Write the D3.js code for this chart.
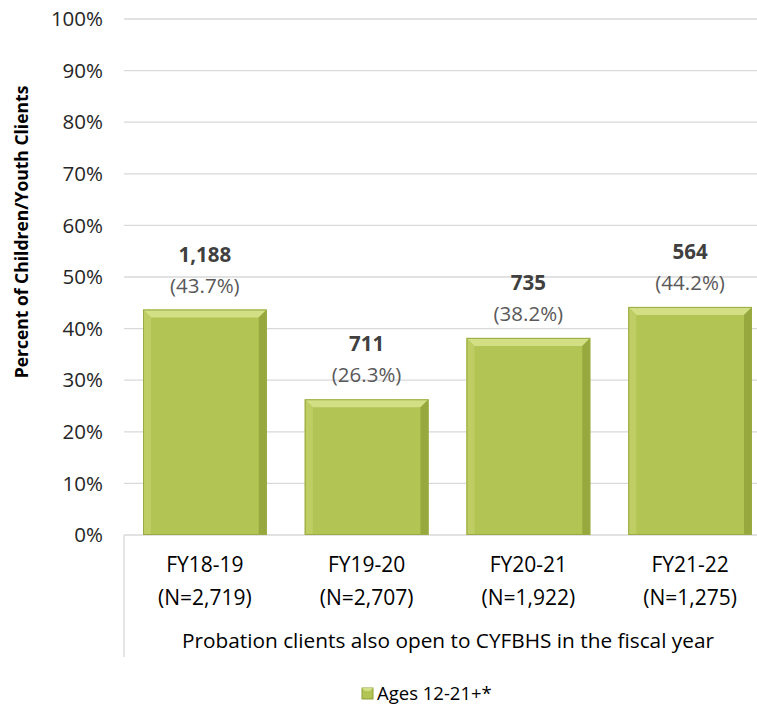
<!DOCTYPE html>
<html>
<head>
<meta charset="utf-8">
<script src="https://cdn.jsdelivr.net/npm/d3@7/dist/d3.min.js"></script>
<style>
  html, body { margin: 0; padding: 0; background: #fff; }
  svg { display: block; }
  text { font-family: "Open Sans", Lato, sans-serif; }
</style>
</head>
<body>
<svg id="chart" width="757" height="712"></svg>
<script>
// Probation clients also open to CYFBHS, by fiscal year
const categories = ["FY18-19", "FY19-20", "FY20-21", "FY21-22"];
const totals = [2719, 2707, 1922, 1275];
const counts = [1188, 711, 735, 564];
const percents = [43.7, 26.3, 38.2, 44.2];
const yTicks = [0, 10, 20, 30, 40, 50, 60, 70, 80, 90, 100];
const groupLabel = "Probation clients also open to CYFBHS in the fiscal year";
const seriesName = "Ages 12-21+*";

const svg = d3.select("#chart");
const plotLeft = 124, plotRight = 771, plotTop = 19, plotBottom = 535;
const fs = 20.5;

const x = d3.scaleBand().domain(categories).range([plotLeft, plotRight]).paddingInner(0.235).paddingOuter(0.1175);
const y = d3.scaleLinear().domain([0, 100]).range([plotBottom, plotTop]);
const fmt = d3.format(",");

// gridlines
svg.append("g").selectAll("line").data(yTicks.filter(d => d > 0)).join("line")
  .attr("x1", plotLeft).attr("x2", plotRight)
  .attr("y1", d => y(d)).attr("y2", d => y(d))
  .attr("stroke", "#d9d9d9").attr("stroke-width", 1.3);

// y tick labels
svg.append("g").selectAll("text").data(yTicks).join("text")
  .attr("x", 103).attr("y", d => y(d)).attr("dy", "0.35em")
  .attr("text-anchor", "end").attr("font-size", fs).attr("fill", "#262626")
  .text(d => d + "%");

// y axis title
svg.append("text")
  .attr("transform", "translate(22,232) rotate(-90)")
  .attr("text-anchor", "middle").attr("dy", "0.35em").attr("font-size", 17.5).attr("font-weight", "bold")
  .attr("fill", "#000").text("Percent of Children/Youth Clients");

// category axis frame
svg.append("line").attr("x1", plotLeft).attr("x2", plotRight).attr("y1", plotBottom).attr("y2", plotBottom)
  .attr("stroke", "#d9d9d9").attr("stroke-width", 1.3);
svg.append("line").attr("x1", plotLeft).attr("x2", plotLeft).attr("y1", plotBottom).attr("y2", 657)
  .attr("stroke", "#d9d9d9").attr("stroke-width", 1.3);

// beveled bars
const bev = 8;
const bars = svg.append("g").selectAll("g").data(categories).join("g");
function barGeom(i) {
  const x0 = x(categories[i]), x1 = x0 + x.bandwidth();
  const y0 = y(percents[i]), y1 = y(0);
  return { x0, x1, y0, y1 };
}
bars.append("rect")
  .attr("x", (d, i) => barGeom(i).x0).attr("y", (d, i) => barGeom(i).y0)
  .attr("width", x.bandwidth()).attr("height", (d, i) => barGeom(i).y1 - barGeom(i).y0)
  .attr("fill", "#b2c454");
const faces = [
  { fill: "#d3df84", pts: g => [[g.x0, g.y0], [g.x1, g.y0], [g.x1 - bev, g.y0 + bev], [g.x0 + bev, g.y0 + bev]] },
  { fill: "#bfce64", pts: g => [[g.x0, g.y0], [g.x0 + bev, g.y0 + bev], [g.x0 + bev, g.y1], [g.x0, g.y1]] },
  { fill: "#97a93e", pts: g => [[g.x1, g.y0], [g.x1 - bev, g.y0 + bev], [g.x1 - bev, g.y1], [g.x1, g.y1]] }
];
faces.forEach(f => {
  bars.append("polygon")
    .attr("points", (d, i) => f.pts(barGeom(i)).map(p => p.join(",")).join(" "))
    .attr("fill", f.fill);
});
bars.append("rect")
  .attr("x", (d, i) => barGeom(i).x0 + 0.5).attr("y", (d, i) => barGeom(i).y0 + 0.5)
  .attr("width", x.bandwidth() - 1).attr("height", (d, i) => barGeom(i).y1 - barGeom(i).y0 - 1)
  .attr("fill", "none").attr("stroke", "#9aab45").attr("stroke-width", 1);

// data labels
bars.append("text")
  .attr("x", d => x(d) + x.bandwidth() / 2)
  .attr("y", (d, i) => y(percents[i]) - 55)
  .attr("dy", "0.35em").attr("text-anchor", "middle")
  .attr("font-size", fs).attr("font-weight", "bold").attr("fill", "#404040")
  .text((d, i) => fmt(counts[i]));
bars.append("text")
  .attr("x", d => x(d) + x.bandwidth() / 2)
  .attr("y", (d, i) => y(percents[i]) - 24)
  .attr("dy", "0.35em").attr("text-anchor", "middle")
  .attr("font-size", fs).attr("fill", "#595959")
  .text((d, i) => "(" + percents[i].toFixed(1) + "%)");

// category labels
const cat = svg.append("g").selectAll("g").data(categories).join("g");
cat.append("text")
  .attr("x", d => x(d) + x.bandwidth() / 2).attr("y", 565).attr("dy", "0.35em")
  .attr("text-anchor", "middle").attr("font-size", 21).attr("fill", "#000").text(d => d);
cat.append("text")
  .attr("x", d => x(d) + x.bandwidth() / 2).attr("y", 598).attr("dy", "0.35em")
  .attr("text-anchor", "middle").attr("font-size", 21).attr("fill", "#000")
  .text((d, i) => "(N=" + fmt(totals[i]) + ")");

svg.append("text").attr("x", 448).attr("y", 641).attr("dy", "0.35em")
  .attr("text-anchor", "middle").attr("font-size", 20.8).attr("fill", "#000").text(groupLabel);

// legend
const lg = svg.append("g").attr("transform", "translate(362,688)");
lg.append("rect").attr("width", 11).attr("height", 11).attr("fill", "#b2c454").attr("stroke", "#8d9f37");
lg.append("polygon").attr("points", "0,0 11,0 8,3 3,3").attr("fill", "#d3df84");
lg.append("text").attr("x", 15).attr("y", 6).attr("dy", "0.35em").attr("font-size", 18.5)
  .attr("fill", "#000").text(seriesName);
</script>
</body>
</html>
